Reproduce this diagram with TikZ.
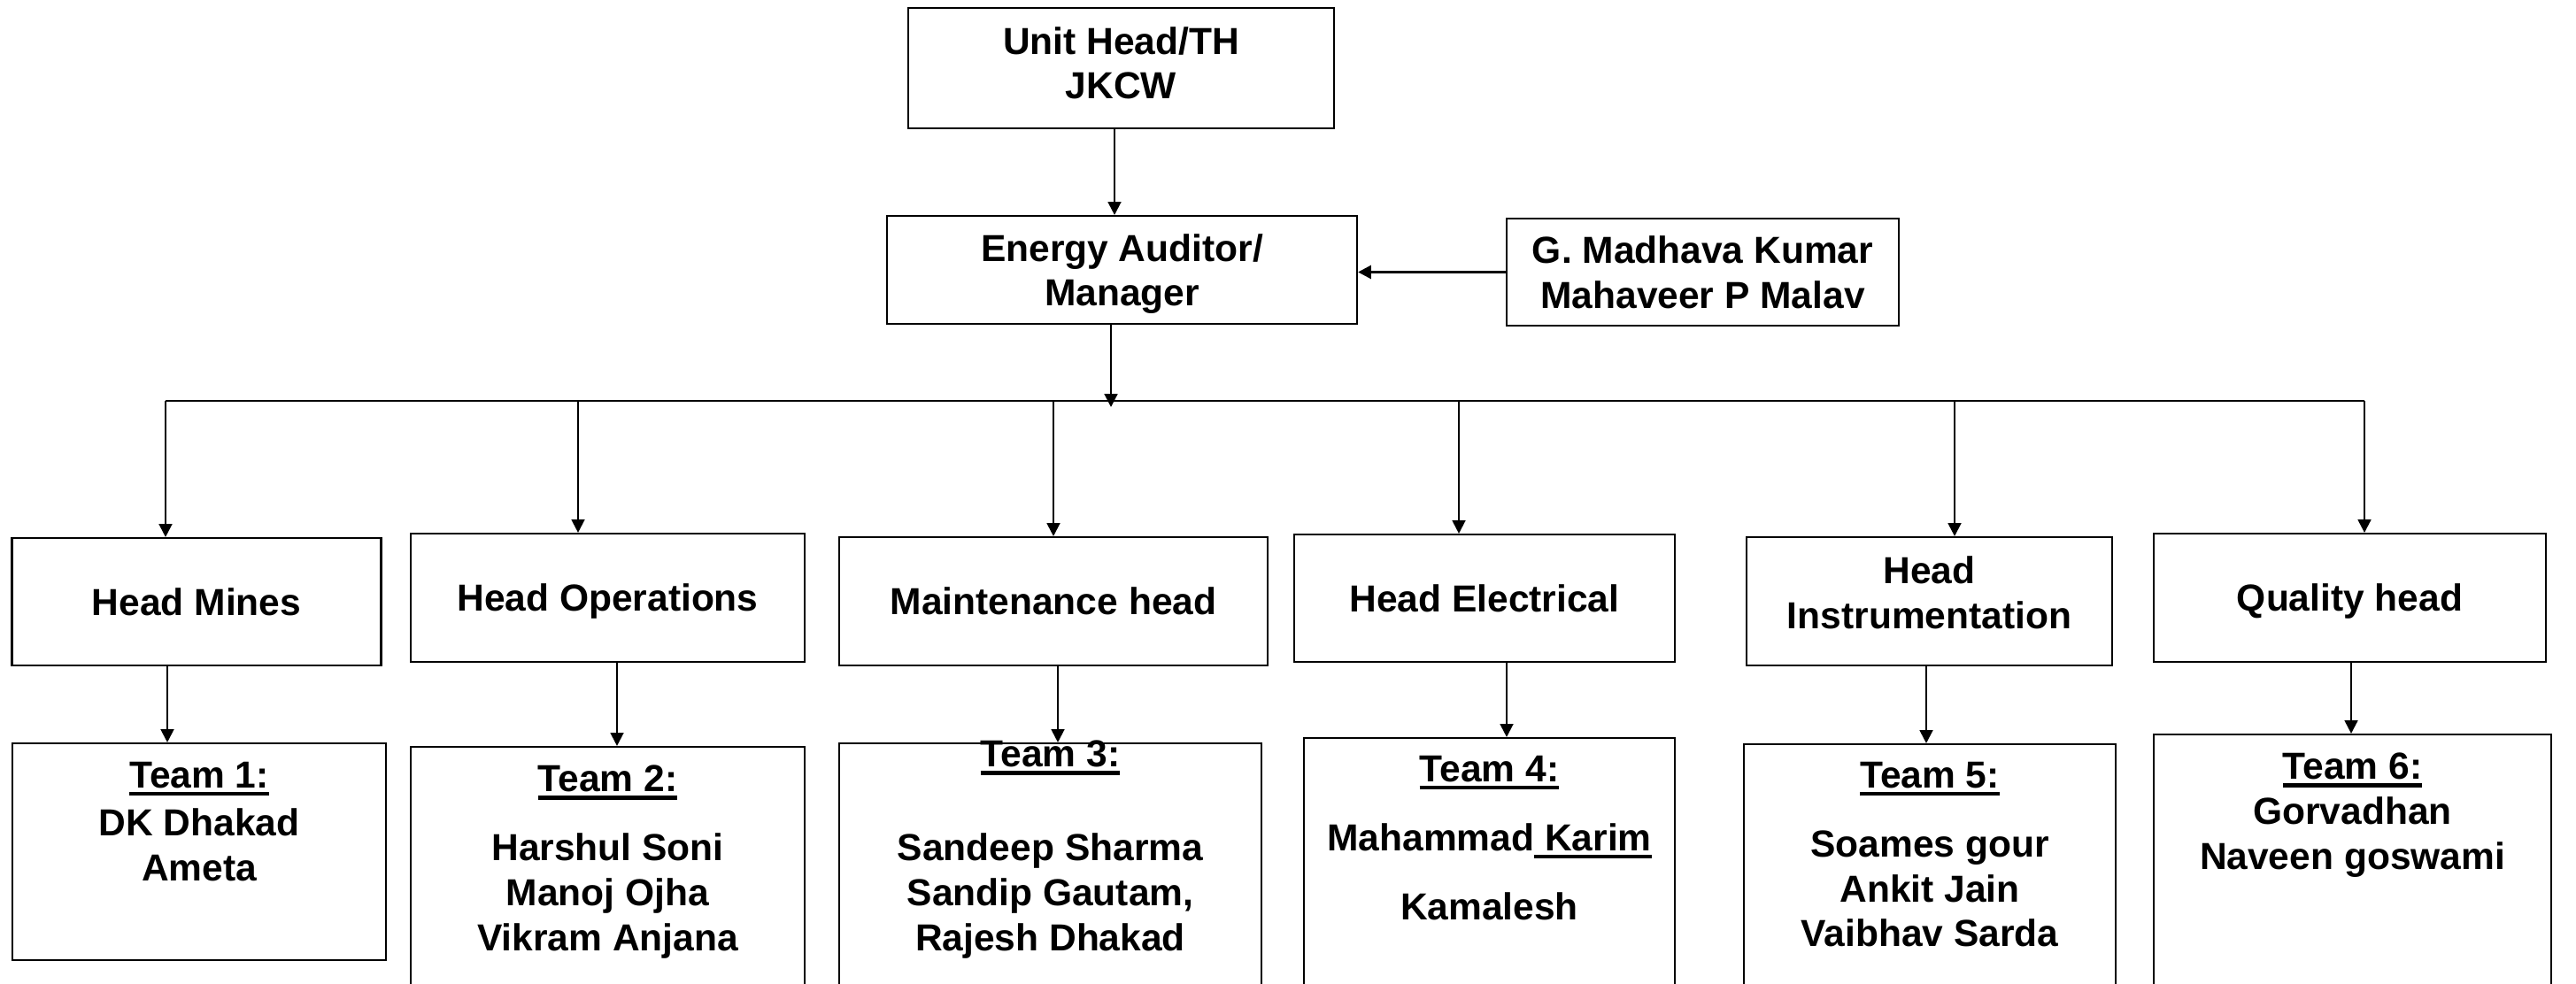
\documentclass[tikz,border=0pt]{standalone}
\usepackage{fontspec}
\setmainfont{Liberation Sans}
\usetikzlibrary{arrows.meta,positioning}
\newcommand{\teamul}[1]{\setbox0\hbox{#1}\rlap{\rule[-2.5pt]{\wd0}{1.2pt}}\box0}

\begin{document}
\begin{tikzpicture}[font=\fontsize{12.1pt}{14.4pt}\selectfont\bfseries]
	\tikzstyle{box} = [draw, line width=0.6pt, align=center, inner sep=0pt, text depth=0pt]
	\tikzstyle{txt} = [align=center, inner sep=0pt]
	\tikzstyle{arr} = [-{Triangle[length=4.2pt,width=4.2pt]}, line width=0.6pt]

	\clip (0,0) rectangle (29.10,-11.12);

	% top of the chart
	\node[box, minimum width=4.81cm, minimum height=1.36cm, text depth=0.12cm] (unit) at (12.665,-0.77) {Unit Head/TH\\JKCW};
	\node[box, minimum width=5.31cm, minimum height=1.22cm] (energy) at (12.675,-3.05) {Energy Auditor/\\Manager};
	\node[box, minimum width=4.43cm, minimum height=1.21cm] (madhava) at (19.235,-3.075) {G. Madhava Kumar\\Mahaveer P Malav};
	\draw[arr] (unit.south -| 12.59,0) -- (energy.north -| 12.59,0);
	\draw[arr, line width=0.9pt] (madhava.west) -- (madhava.west -| energy.east);

	\coordinate (hub) at (12.55,-4.60);
	\draw[arr] (energy.south -| hub) -- (hub);
	\draw[line width=0.6pt] (1.87,-4.53) -- (26.71,-4.53);

	% heads
	\node[box, minimum width=4.17cm, minimum height=1.44cm] (mines) at (2.22,-6.80) {Head Mines};
	\node[box, minimum width=4.45cm, minimum height=1.45cm] (ops) at (6.865,-6.755) {Head Operations};
	\node[box, minimum width=4.84cm, minimum height=1.45cm] (maint) at (11.90,-6.795) {Maintenance head};
	\node[box, minimum width=4.30cm, minimum height=1.44cm] (elec) at (16.77,-6.76) {Head Electrical};
	\node[box, minimum width=4.13cm, minimum height=1.45cm, text depth=0.2cm] (instr) at (21.795,-6.795) {Head\\Instrumentation};
	\node[box, minimum width=4.43cm, minimum height=1.45cm] (quality) at (26.545,-6.755) {Quality head};

	\foreach \x/\h in {1.87/mines, 6.53/ops, 11.90/maint, 16.48/elec, 22.08/instr, 26.71/quality}
		\draw[arr] (\x,-4.53) -- (\h.north -| \x,0);

	% teams
	\node[box, minimum width=4.22cm, minimum height=2.45cm] (team1) at (2.25,-9.625) {};
	\node[box, minimum width=4.45cm, minimum height=2.86cm] (team2) at (6.865,-9.87) {};
	\node[box, minimum width=4.77cm, minimum height=2.90cm] (team3) at (11.865,-9.85) {};
	\node[box, minimum width=4.19cm, minimum height=2.96cm] (team4) at (16.825,-9.82) {};
	\node[box, minimum width=4.20cm, minimum height=2.89cm] (team5) at (21.80,-9.855) {};
	\node[box, minimum width=4.49cm, minimum height=3.00cm] (team6) at (26.575,-9.80) {};

	\node[txt, below=0.215cm of team1.north] (names1) {\teamul{Team 1:}\\[1pt]DK Dhakad\\Ameta};
	\node[txt, below=0.215cm of team2.north] (names2) {\teamul{Team 2:}\\[7.8pt]Harshul Soni\\Manoj Ojha\\Vikram Anjana};
	\node[txt, below=-0.025cm of team3.north] (names3) {\teamul{Team 3:}\\[15.8pt]Sandeep Sharma\\Sandip Gautam,\\Rajesh Dhakad};
	\node[txt, below=0.205cm of team4.north] (names4) {\teamul{Team 4:}\\[7.8pt]Mahammad\teamul{\ Karim}\\[7.8pt]Kamalesh};
	\node[txt, below=0.205cm of team5.north] (names5) {\teamul{Team 5:}\\[7.8pt]Soames gour\\Ankit Jain\\Vaibhav Sarda};
	\node[txt, below=0.215cm of team6.north] (names6) {\teamul{Team 6:}\\Gorvadhan\\Naveen goswami};

	\foreach \x/\h/\t in {1.89/mines/team1, 6.97/ops/team2, 11.95/maint/team3, 17.02/elec/team4, 21.76/instr/team5, 26.56/quality/team6}
		\draw[arr] (\h.south -| \x,0) -- (\t.north -| \x,0);
\end{tikzpicture}
\end{document}
